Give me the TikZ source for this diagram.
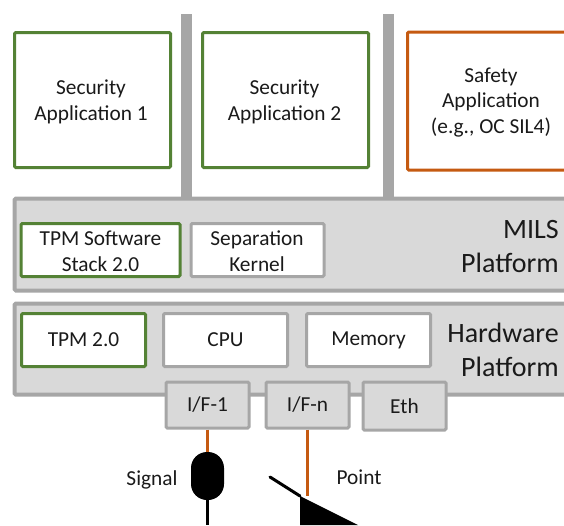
\documentclass[tikz,border=0pt]{standalone}
\usepackage{fontspec}
\setmainfont{Carlito}
\def\px{0.75pt}
\definecolor{rahmen}{HTML}{A6A6A6}
\definecolor{flaeche}{HTML}{D9D9D9}
\definecolor{gruen}{HTML}{548235}
\definecolor{orange}{HTML}{C55A11}
\definecolor{schrift}{HTML}{1A1A1A}
\tikzset{
    every node/.style={text=schrift, font=\fontsize{16pt}{19.4pt}\selectfont, align=center, inner sep=0pt, rounded corners=1pt},
    secbox/.style={draw=gruen, line width=2.25pt, fill=white},
    safebox/.style={draw=orange, line width=2.25pt, fill=white},
    inbox/.style={draw=rahmen, line width=2.25pt, fill=white},
    platform/.style={draw=rahmen, line width=3pt, fill=flaeche},
    ifbox/.style={draw=rahmen, line width=2.25pt, fill=flaeche},
    partition/.style={fill=rahmen, rounded corners=0pt},
    platname/.style={align=right, anchor=east, font=\fontsize{21pt}{25.5pt}\selectfont},
    ifwire/.style={draw=orange, line width=1.6pt},
}
\begin{document}
\begin{tikzpicture}[x=\px, y=-\px]
	\useasboundingbox (0,0) rectangle (564,525);
	\clip (0,0) rectangle (564,525);
	% partitions
	\node[partition, minimum width=11*\px, minimum height=186*\px] (wall1) at (186.5,107) {};
	\node[partition, minimum width=11*\px, minimum height=186*\px] (wall2) at (388.5,107) {};
	% applications
	\node[secbox, minimum width=156*\px, minimum height=135*\px] (app1) at (92.5,100) {};
	\node (app1txt) at (91,101.5) {Security\\Application 1};
	\node[secbox, minimum width=166*\px, minimum height=135*\px] (app2) at (285.5,100) {};
	\node (app2txt) at (284.5,101.5) {Security\\Application 2};
	\node[safebox, minimum width=170*\px, minimum height=138*\px] (app3) at (492.5,101) {};
	\node (app3txt) at (491,102.5) {Safety\\Application\\(e.g., OC SIL4)};
	% MILS platform
	\node[platform, minimum width=560*\px, minimum height=92*\px] (mils) at (294.5,244.5) {};
	\node[platname] (milstxt) at (559,246.5) {MILS\\Platform};
	\node[secbox, minimum width=159*\px, minimum height=53*\px] (tss) at (100.5,250) {};
	\node (tsstxt) at (100.5,251) {TPM Software\\Stack 2.0};
	\node[inbox, minimum width=133*\px, minimum height=53*\px] (sk) at (257.5,250) {};
	\node (sktxt) at (257,251) {Separation\\Kernel};
	% hardware platform
	\node[platform, minimum width=560*\px, minimum height=91*\px] (hw) at (294.5,349) {};
	\node[platname] (hwtxt) at (559,350) {Hardware\\Platform};
	\node[secbox, minimum width=124*\px, minimum height=53*\px] (tpm) at (83.5,340) {TPM 2.0};
	\node[inbox, minimum width=124*\px, minimum height=53*\px] (cpu) at (225.5,340) {CPU};
	\node[inbox, minimum width=124*\px, minimum height=53*\px] (mem) at (368.5,340) {Memory};
	% interfaces
	\node[ifbox, minimum width=83*\px, minimum height=46*\px] (if1) at (207.5,405) {I/F-1};
	\node[ifbox, minimum width=83*\px, minimum height=46*\px] (ifn) at (307.5,405) {I/F-n};
	\node[ifbox, minimum width=83*\px, minimum height=48*\px] (eth) at (404.5,406) {Eth};
	% signal and point
	\node[fill=black, minimum width=33*\px, minimum height=48*\px, rounded corners=12pt] (sig) at (207.5,476) {};
	\coordinate (sigend) at (207.5,525);
	\coordinate (pttop) at (300,496);
	\coordinate (ptlever) at (270,477);
	\coordinate (ptend) at (358,525);
	\coordinate (ptbase) at (300,525);
	\path[ifwire] (if1) -- (sig);
	\path[ifwire] (ifn.south) -- (ifn.south |- pttop);
	\draw[line width=2.25pt] (sig) -- (sigend);
	\fill (pttop) -- (ptend) -- (ptbase) -- cycle;
	\draw[line width=2.25pt, line cap=round] (ptlever) -- (pttop);
	\node (sigtxt) at (152,480) {Signal};
	\node (pttxt) at (359,477) {Point};
\end{tikzpicture}
\end{document}
